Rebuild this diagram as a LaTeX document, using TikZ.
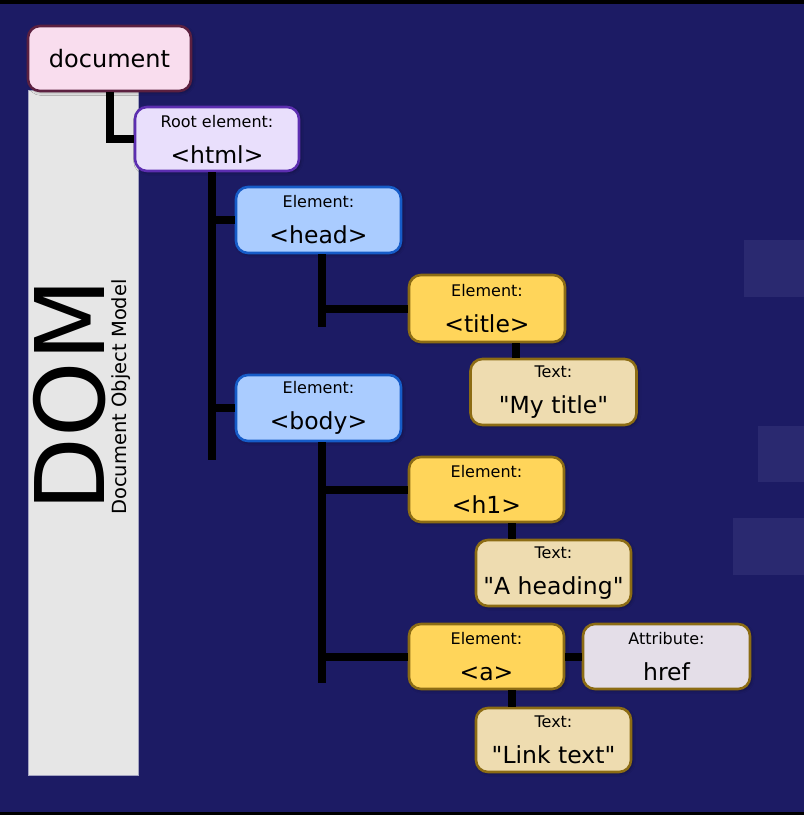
\documentclass[tikz,border=0pt]{standalone}
\usepackage{fontspec}
\setmainfont{DejaVu Sans}[Ligatures=TeXOff]
\usepackage{tikz}
\usetikzlibrary{shadows.blur}

\definecolor{navy}{RGB}{28,27,100}
\definecolor{patch}{RGB}{42,41,112}
\definecolor{sidebar}{RGB}{230,230,230}
\definecolor{docfill}{RGB}{249,221,238}
\definecolor{docedge}{RGB}{92,32,64}
\definecolor{rootfill}{RGB}{233,223,252}
\definecolor{rootedge}{RGB}{92,46,176}
\definecolor{headfill}{RGB}{170,204,255}
\definecolor{headedge}{RGB}{22,92,200}
\definecolor{elemfill}{RGB}{255,213,90}
\definecolor{textfill}{RGB}{238,220,176}
\definecolor{attrfill}{RGB}{228,222,232}
\definecolor{goldedge}{RGB}{140,108,20}

\newcommand\boxlabel[1]{{\fontsize{16}{18}\selectfont #1}}

\tikzset{
  box/.style={draw, line width=2.6pt, rounded corners=12pt, inner sep=0pt,
    align=center, font=\fontsize{23.5}{36}\selectfont,
    minimum width=155pt, minimum height=65pt,
    blur shadow={shadow xshift=1.5pt, shadow yshift=-1.5pt,
      shadow blur radius=3pt, shadow opacity=35}},
  rootbox/.style={box, fill=rootfill, draw=rootedge},
  headbox/.style={box, fill=headfill, draw=headedge},
  elembox/.style={box, fill=elemfill, draw=goldedge},
  textbox/.style={box, fill=textfill, draw=goldedge},
  attrbox/.style={box, fill=attrfill, draw=goldedge},
  branch/.style={line width=8pt, black}
}

\begin{document}
\begin{tikzpicture}[x=1pt,y=-1pt]
\useasboundingbox (0,0) rectangle (804,815);
\fill[black] (0,0) rectangle (804,815);
\fill[navy] (0,4) rectangle (804,812);
\fill[patch] (744,240) rectangle (804,297);
\fill[patch] (758,426) rectangle (804,482);
\fill[patch] (733,518) rectangle (804,575);
\fill[sidebar] (28,90) rectangle (138,775);
\draw[color=navy!40!white, line width=0.8pt] (28,90) rectangle (138,775);

\node[rotate=90, font=\fontsize{96}{96}\selectfont] (dom) at (70,395) {DOM};
\node[rotate=90, font=\fontsize{19.5}{22}\selectfont] (domsub) at (121,397) {Document Object Model};

\node[box, fill=docfill, draw=docedge, minimum width=163pt,
  font=\fontsize{24}{28}\selectfont] (doc) at (109.5,58.5) {document};
\node[rootbox, minimum width=164pt, minimum height=64pt] (html) at (217,139) {\boxlabel{Root element:}\\<html>};

\node[headbox, minimum width=165pt, minimum height=66pt] (head) at (318.5,220) {\boxlabel{Element:}\\<head>};
\node[headbox, minimum width=165pt, minimum height=66pt] (body) at (318.5,408) {\boxlabel{Element:}\\<body>};

\node[elembox, minimum width=156pt, minimum height=67pt] (title) at (487,308.5) {\boxlabel{Element:}\\<title>};
\node[textbox, minimum width=166pt, minimum height=66pt] (mytitle) at (553.5,392) {\boxlabel{Text:}\\"My title"};

\node[elembox] (h1) at (486.5,489.5) {\boxlabel{Element:}\\<h1>};
\node[textbox, minimum height=66pt] (heading) at (553.5,573) {\boxlabel{Text:}\\"A heading"};

\node[elembox] (a) at (486.5,656.5) {\boxlabel{Element:}\\<a>};
\node[attrbox, minimum width=167pt] (href) at (666.5,656.5) {\boxlabel{Attribute:}\\href};
\node[textbox, minimum height=64pt] (link) at (553.5,740) {\boxlabel{Text:}\\"Link text"};

\coordinate (htmltrunk) at ([xshift=-5pt]html.south);
\coordinate (htmlend) at (212,460);
\coordinate (headtrunk) at ([xshift=3.5pt]head.south);
\coordinate (headend) at (322,327);
\coordinate (bodytrunk) at ([xshift=3.5pt]body.south);
\coordinate (bodyend) at (322,683);

\draw[branch] (doc.south) |- (html.west);
\draw[branch] (htmltrunk) -- (htmlend);
\draw[branch] (head.west) -- (head.west -| htmltrunk);
\draw[branch] (body.west) -- (body.west -| htmltrunk);
\draw[branch] (headtrunk) -- (headend);
\draw[branch] (title.west) -- (title.west -| headtrunk);
\draw[branch] (bodytrunk) -- (bodyend);
\draw[branch] (h1.west) -- (h1.west -| bodytrunk);
\draw[branch] (a.west) -- (a.west -| bodytrunk);
\draw[branch] ([xshift=29pt]title.south) -- ([xshift=-37.5pt]mytitle.north);
\draw[branch] ([xshift=25.5pt]h1.south) -- ([xshift=-41.5pt]heading.north);
\draw[branch] ([xshift=25.5pt]a.south) -- ([xshift=-41.5pt]link.north);
\draw[branch] (a.east) -- (href.west);
\end{tikzpicture}
\end{document}
